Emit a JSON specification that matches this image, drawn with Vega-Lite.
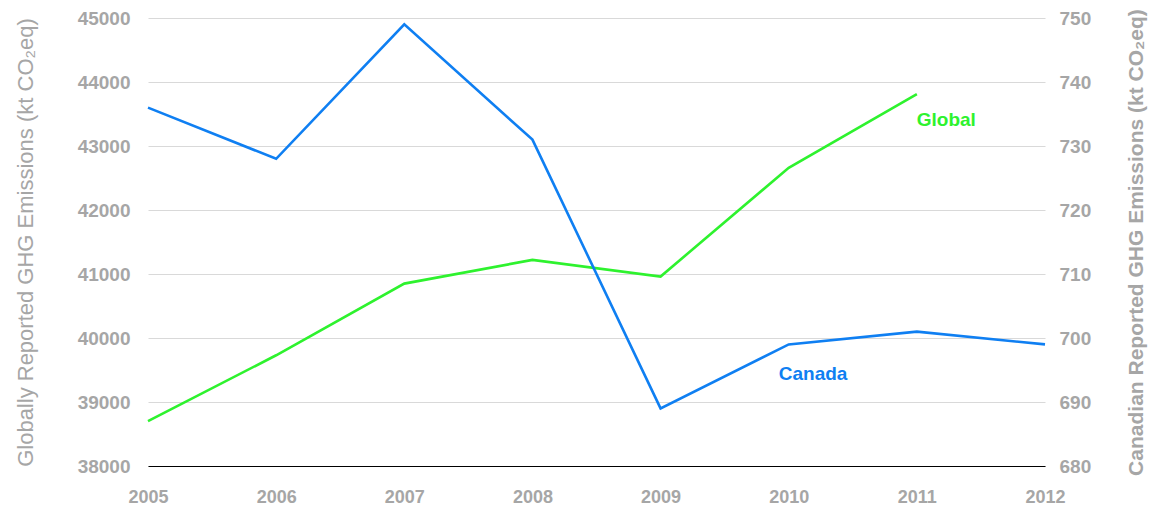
{
  "$schema": "https://vega.github.io/schema/vega-lite/v6.json",
  "width": 897,
  "height": 448,
  "autosize": {"type": "none"},
  "padding": {"left": 148, "top": 18, "right": 111, "bottom": 46},
  "background": "white",
  "config": {
    "view": {"stroke": null},
    "font": "Liberation Sans",
    "axis": {"labelFont": "Liberation Sans", "titleFont": "Liberation Sans"}
  },
  "datasets": {
    "global": [
      {"year": 2005, "value": 38700},
      {"year": 2006, "value": 39730},
      {"year": 2007, "value": 40850},
      {"year": 2008, "value": 41220},
      {"year": 2009, "value": 40960},
      {"year": 2010, "value": 42660},
      {"year": 2011, "value": 43810}
    ],
    "canada": [
      {"year": 2005, "value": 736},
      {"year": 2006, "value": 728},
      {"year": 2007, "value": 749},
      {"year": 2008, "value": 731},
      {"year": 2009, "value": 689},
      {"year": 2010, "value": 699},
      {"year": 2011, "value": 701},
      {"year": 2012, "value": 699}
    ],
    "globalLabel": [{"year": 2011.23, "value": 43406, "label": "Global"}],
    "canadaLabel": [{"year": 2010.19, "value": 694.4, "label": "Canada"}]
  },
  "layer": [
    {
      "encoding": {
        "x": {
          "field": "year", "type": "quantitative",
          "scale": {"domain": [2005, 2012], "nice": false, "zero": false},
          "axis": {
            "title": null, "values": [2005, 2006, 2007, 2008, 2009, 2010, 2011, 2012],
            "format": "d", "grid": false, "ticks": false,
            "domainColor": "#000000", "domainWidth": 1.2,
            "labelColor": "#a6a6a6", "labelFontSize": 18, "labelFontWeight": "bold",
            "labelPadding": 22, "labelFlush": false
          }
        },
        "y": {
          "field": "value", "type": "quantitative",
          "scale": {"domain": [38000, 45000], "nice": false, "zero": false},
          "axis": {
            "title": "Globally Reported GHG Emissions (kt CO₂eq)",
            "values": [38000, 39000, 40000, 41000, 42000, 43000, 44000, 45000],
            "format": "d", "grid": true, "gridColor": "#d9d9d9", "gridWidth": 1.2,
            "domain": false, "ticks": false,
            "labelColor": "#a6a6a6", "labelFontSize": 19, "labelFontWeight": "bold",
            "labelPadding": 18,
            "titleColor": "#a6a6a6", "titleFontSize": 22, "titleFontWeight": "normal",
            "titlePadding": 40
          }
        }
      },
      "layer": [
        {
          "data": {"name": "global"},
          "mark": {"type": "line", "color": "#2ef22e", "strokeWidth": 2.6}
        },
        {
          "data": {"name": "globalLabel"},
          "mark": {"type": "text", "color": "#2ef22e", "fontSize": 19, "fontWeight": "bold", "font": "Liberation Sans"},
          "encoding": {"text": {"field": "label"}}
        }
      ]
    },
    {
      "encoding": {
        "x": {"field": "year", "type": "quantitative"},
        "y": {
          "field": "value", "type": "quantitative",
          "scale": {"domain": [680, 750], "nice": false, "zero": false},
          "axis": {
            "orient": "right",
            "title": "Canadian Reported GHG Emissions (kt CO₂eq)",
            "values": [680, 690, 700, 710, 720, 730, 740, 750],
            "format": "d", "grid": false,
            "domain": false, "ticks": false,
            "labelColor": "#a6a6a6", "labelFontSize": 19, "labelFontWeight": "bold",
            "labelPadding": 14,
            "titleColor": "#a6a6a6", "titleFontSize": 21, "titleFontWeight": "bold",
            "titleAngle": 270, "titleBaseline": "bottom",
            "titlePadding": 56
          }
        }
      },
      "layer": [
        {
          "data": {"name": "canada"},
          "mark": {"type": "line", "color": "#0f7ff2", "strokeWidth": 2.6}
        },
        {
          "data": {"name": "canadaLabel"},
          "mark": {"type": "text", "color": "#0f7ff2", "fontSize": 19, "fontWeight": "bold", "font": "Liberation Sans"},
          "encoding": {"text": {"field": "label"}}
        }
      ]
    }
  ],
  "resolve": {"scale": {"y": "independent"}}
}
